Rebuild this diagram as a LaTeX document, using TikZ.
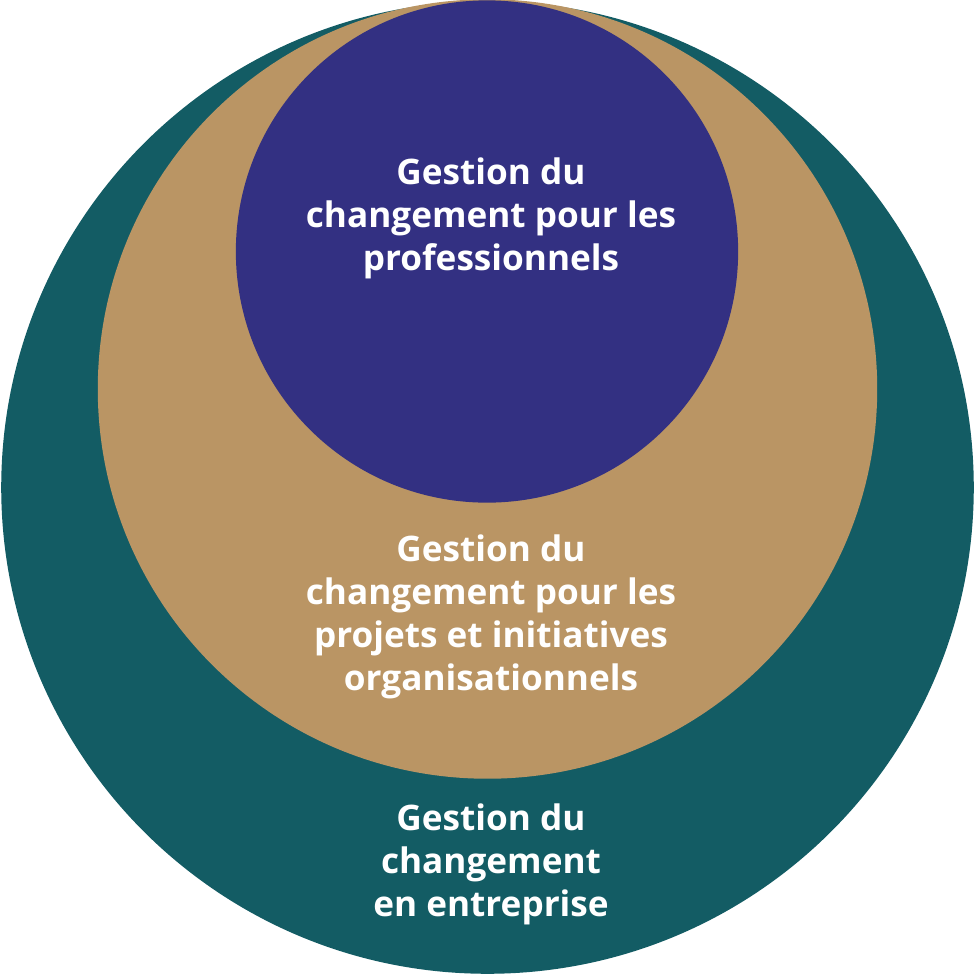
\documentclass[tikz,border=0pt]{standalone}
\usepackage{fontspec}
\setmainfont{Open Sans}
\definecolor{tealc}{RGB}{19,92,100}
\definecolor{tanc}{RGB}{186,149,100}
\definecolor{purplec}{RGB}{51,48,130}
\begin{document}
\begin{tikzpicture}[x=0.01cm,y=-0.01cm,
  disc/.style={circle,inner sep=0pt,outer sep=0pt,draw=none},
  lbl/.style={text=white,align=center,font=\fontsize{10pt}{12.2pt}\selectfont\bfseries,inner sep=0pt}]
\useasboundingbox (0,0) rectangle (975,975);
\node[disc,fill=tealc,minimum size=9.72cm] (outer) at (487.5,487.5) {};
\node[disc,fill=tanc,minimum size=7.79cm] (middle) at (487.5,389) {};
\node[disc,fill=purplec,minimum size=5.02cm] (inner) at (487,251.5) {};
\node[lbl] (t1) at (491,218) {Gestion du\\changement pour les\\professionnels};
\node[lbl] (t2) at (491,617) {Gestion du\\changement pour les\\projets et initiatives\\organisationnels};
\node[lbl] (t3) at (491,864) {Gestion du\\changement\\en entreprise};
\end{tikzpicture}
\end{document}
